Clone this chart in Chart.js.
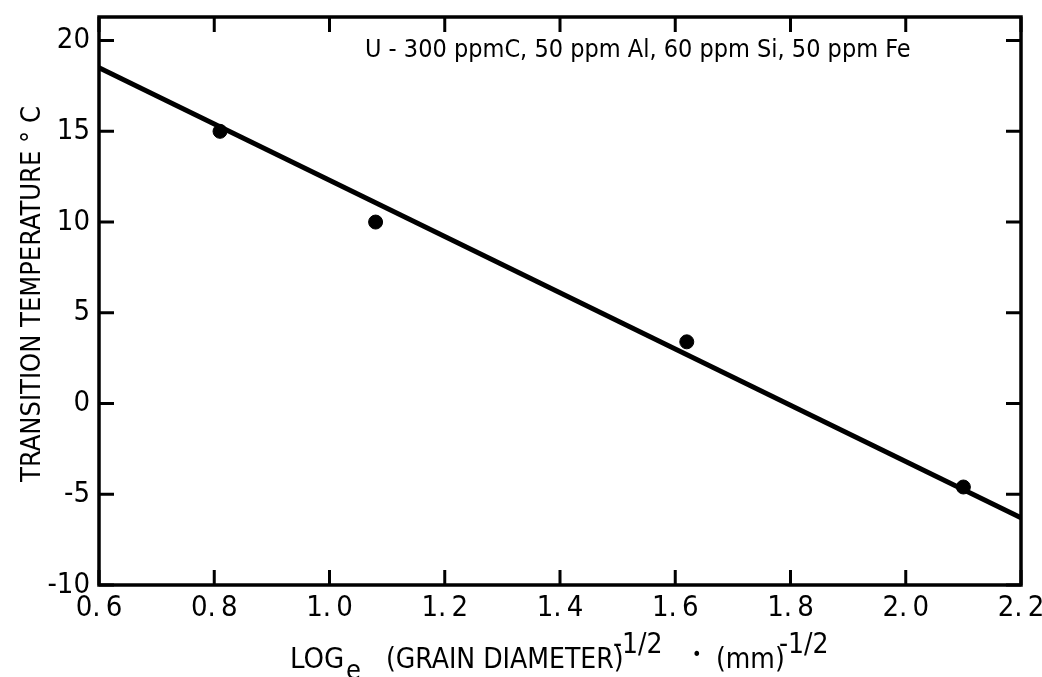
<!DOCTYPE html>
<html>
<head>
<meta charset="utf-8">
<script src="https://cdn.jsdelivr.net/npm/chart.js@4/dist/chart.umd.min.js"></script>
<style>
  html, body { margin: 0; padding: 0; background: #fff; }
  #wrap { width: 1042px; height: 677px; }
</style>
</head>
<body>
<div id="wrap"><canvas id="chart"></canvas></div>
<script>
// Data
const grainX = [0.81, 1.08, 1.62, 2.10];
const transT = [15.0, 10.0, 3.4, -4.6];
const fitX = [0.6, 2.2];
const fitY = [18.5, -6.3];
const xTicks = [0.6, 0.8, 1.0, 1.2, 1.4, 1.6, 1.8, 2.0, 2.2];
const yTicks = [-10, -5, 0, 5, 10, 15, 20];
const noteText = 'U - 300 ppmC, 50 ppm Al, 60 ppm Si, 50 ppm Fe';

const FONT = '"Liberation Sans Narrow", "DejaVu Sans Condensed", "Open Sans", sans-serif';

// Box frame with inward ticks on all four sides, plus axis titles
const framePlugin = {
    id: 'frame',
    afterDraw(chart) {
        const ctx = chart.ctx;
        const a = chart.chartArea;
        const xs = chart.scales.x;
        const ys = chart.scales.y;
        ctx.save();
        ctx.strokeStyle = '#000';
        ctx.lineWidth = 3.5;
        ctx.strokeRect(a.left, a.top, a.right - a.left, a.bottom - a.top);

        ctx.lineWidth = 3;
        const tl = 15;
        xTicks.forEach(v => {
            const px = xs.getPixelForValue(v);
            ctx.beginPath();
            ctx.moveTo(px, a.bottom); ctx.lineTo(px, a.bottom - tl);
            ctx.moveTo(px, a.top); ctx.lineTo(px, a.top + tl);
            ctx.stroke();
        });
        yTicks.forEach(v => {
            const py = ys.getPixelForValue(v);
            ctx.beginPath();
            ctx.moveTo(a.left, py); ctx.lineTo(a.left + tl, py);
            ctx.moveTo(a.right, py); ctx.lineTo(a.right - tl, py);
            ctx.stroke();
        });

        // note in the upper right
        ctx.fillStyle = '#000';
        ctx.font = '25px ' + FONT;
        ctx.textBaseline = 'alphabetic';
        ctx.textAlign = 'left';
        ctx.fillText(noteText, 365, 57);

        // y title
        ctx.save();
        ctx.translate(40, 294);
        ctx.rotate(-Math.PI / 2);
        ctx.textAlign = 'center';
        ctx.font = '27px ' + FONT;
        ctx.fillText('TRANSITION TEMPERATURE ° C', 0, 0);
        ctx.restore();

        // x title with sub/superscripts
        const base = 668;
        const parts = [
            ['LOG', 29, 0, 290],
            ['e', 27, 11, 346],
            ['(GRAIN DIAMETER)', 28, 0, 386],
            ['-1/2', 28, -15, 613],
            ['•', 18, -8, 692],
            ['(mm)', 28, 0, 716],
            ['-1/2', 28, -15, 779]
        ];
        ctx.textAlign = 'left';
        parts.forEach(([t, size, dy, x]) => {
            ctx.font = size + 'px ' + FONT;
            ctx.fillText(t, x, base + dy);
        });
        ctx.restore();
    }
};

new Chart(document.getElementById('chart'), {
    type: 'scatter',
    data: {
        datasets: [
            {
                label: 'measured',
                data: grainX.map((x, i) => ({ x, y: transT[i] })),
                backgroundColor: '#000',
                borderColor: '#000',
                pointRadius: 7,
                pointHoverRadius: 7
            },
            {
                label: 'fit',
                data: fitX.map((x, i) => ({ x, y: fitY[i] })),
                showLine: true,
                borderColor: '#000',
                borderWidth: 5,
                pointRadius: 0
            }
        ]
    },
    plugins: [framePlugin],
    options: {
        responsive: true,
        maintainAspectRatio: false,
        animation: false,
        layout: { padding: { top: 17, right: 21, left: 0, bottom: 0 } },
        plugins: {
            legend: { display: false },
            tooltip: { enabled: false }
        },
        scales: {
            x: {
                type: 'linear',
                min: 0.6,
                max: 2.2,
                afterBuildTicks: s => { s.ticks = xTicks.map(v => ({ value: v })); },
                afterFit: s => { s.height = 92; s.paddingLeft = 0; s.paddingRight = 0; },
                grid: { display: false, drawTicks: false },
                border: { display: false },
                ticks: {
                    padding: 6,
                    color: '#000',
                    font: { family: FONT, size: 29 },
                    callback: v => v.toFixed(1).replace('.', '.\u2009')
                }
            },
            y: {
                type: 'linear',
                min: -10,
                max: 21.3,
                afterBuildTicks: s => { s.ticks = yTicks.map(v => ({ value: v })); },
                afterFit: s => { s.width = 99; s.paddingTop = 0; s.paddingBottom = 0; },
                grid: { display: false, drawTicks: false },
                border: { display: false },
                ticks: {
                    padding: 9,
                    color: '#000',
                    font: { family: FONT, size: 29 },
                    callback: v => String(v)
                }
            }
        }
    }
});
</script>
</body>
</html>
